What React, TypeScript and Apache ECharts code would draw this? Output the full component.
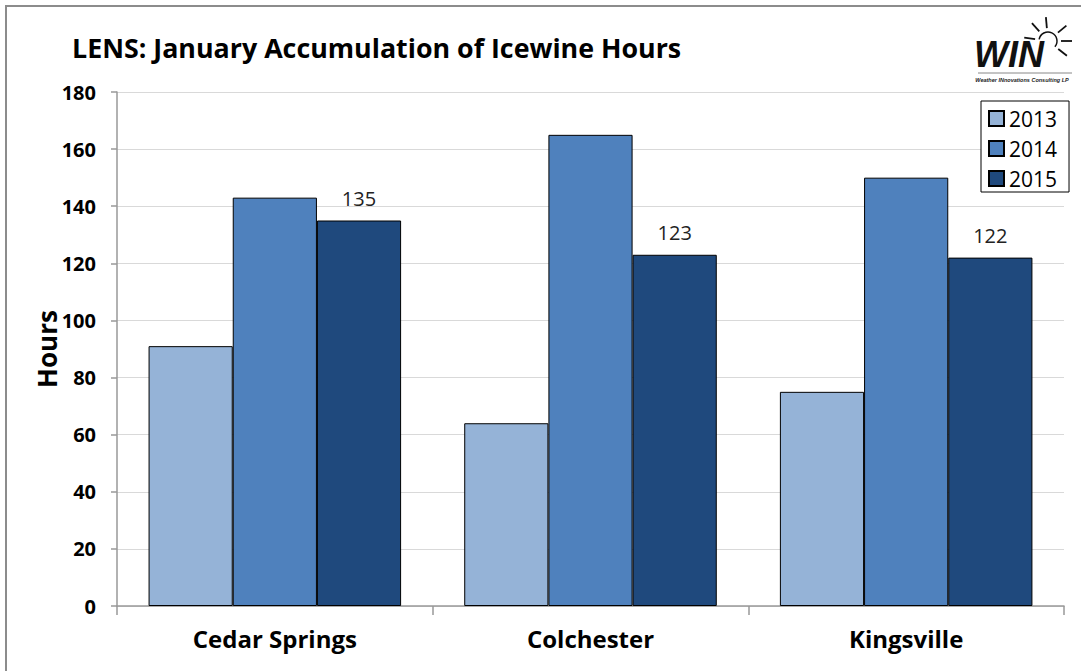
import React, { useEffect, useRef } from "react";
import * as echarts from "echarts";

const categories = ["Cedar Springs", "Colchester", "Kingsville"];
const years = ["2013", "2014", "2015"];
const values2013 = [91, 64, 75];
const values2014 = [143, 165, 150];
const values2015 = [135, 123, 122];
const yTicks = { min: 0, max: 180, interval: 20 };
const colors = ["#95B3D7", "#4F81BD", "#1F497D"];

const FONT = "'Open Sans', sans-serif";

export default function App() {
  const ref = useRef<HTMLDivElement>(null);
  useEffect(() => {
    if (!ref.current) return;
    const chart = echarts.init(ref.current, undefined, { renderer: "svg" });
    const seriesData = [values2013, values2014, values2015];
    const cx = 1048, cy = 41;
    const rayAngles = [-172, -132, -95, -40, 0, 38];
    const rays = rayAngles.map((a) => {
      const r = (a * Math.PI) / 180;
      return {
        type: "line",
        shape: { x1: cx + Math.cos(r) * 13, y1: cy + Math.sin(r) * 13, x2: cx + Math.cos(r) * 24, y2: cy + Math.sin(r) * 24 },
        style: { stroke: "#111", lineWidth: 1.8 },
      };
    });
    chart.setOption({
      animation: false,
      textStyle: { fontFamily: FONT },
      title: {
        text: "LENS: January Accumulation of Icewine Hours",
        left: 67,
        top: 29,
        textStyle: { fontFamily: FONT, fontSize: 26.8, fontWeight: "bold", color: "#000" },
      },
      legend: {
        orient: "vertical",
        left: 981,
        top: 101,
        width: 89,
        padding: [7, 12, 3, 7],
        itemWidth: 15,
        itemHeight: 15,
        itemGap: 9,
        borderColor: "#000",
        borderWidth: 1,
        backgroundColor: "#fff",
        icon: "rect",
        data: years,
        textStyle: { fontFamily: FONT, fontSize: 21, lineHeight: 20, color: "#000", padding: [0, 0, 0, 0] },
      },
      grid: { left: 117, right: 17, top: 92, bottom: 65, containLabel: false },
      xAxis: {
        type: "category",
        data: categories,
        axisLine: { lineStyle: { color: "#999", width: 1.5 } },
        axisTick: { show: true, length: 9, lineStyle: { color: "#999", width: 1.5 } },
        axisLabel: { fontFamily: FONT, fontSize: 24, fontWeight: "bold", color: "#000", margin: 20 },
      },
      yAxis: {
        type: "value",
        min: yTicks.min,
        max: yTicks.max,
        interval: yTicks.interval,
        name: "Hours",
        nameLocation: "middle",
        nameGap: 57,
        nameMoveOverlap: false,
        nameTextStyle: { fontFamily: FONT, fontSize: 26, fontWeight: "bold", color: "#000" },
        axisLine: { show: true, lineStyle: { color: "#999", width: 1.5 } },
        axisTick: { show: true, length: 6, lineStyle: { color: "#999", width: 1.5 } },
        axisLabel: { fontFamily: FONT, fontSize: 20, fontWeight: "bold", color: "#000", margin: 21 },
        splitLine: { lineStyle: { color: "#d9d9d9", width: 1 } },
      },
      series: years.map((y, i) => ({
        name: y,
        type: "bar",
        data: seriesData[i],
        barGap: "0%",
        barCategoryGap: "20%",
        itemStyle: { color: colors[i], borderColor: "#000", borderWidth: 1 },
        label: i === 2
          ? { show: true, position: "top", distance: 12, fontFamily: FONT, fontSize: 20, color: "#222" }
          : { show: false },
      })),
      graphic: [
        {
          type: "rect",
          shape: { x: 6, y: 6, width: 1200, height: 800 },
          style: { fill: "none", stroke: "#8c8c8c", lineWidth: 2 },
          silent: true,
        },
        {
          type: "text",
          x: 974,
          y: 36,
          style: { text: "WIN", fontFamily: "'Liberation Sans', Arial, sans-serif", fontSize: 36, fontWeight: 900, fontStyle: "italic", fill: "#111" },
        },
        {
          type: "arc",
          shape: { cx, cy, r: 9, startAngle: (-170 * Math.PI) / 180, endAngle: (40 * Math.PI) / 180 },
          style: { stroke: "#111", lineWidth: 1.5, fill: "none" },
        },
        ...rays,
        {
          type: "line",
          shape: { x1: 978, y1: 73, x2: 1072, y2: 73 },
          style: { stroke: "#888", lineWidth: 1 },
        },
        {
          type: "text",
          x: 1022,
          y: 77,
          style: { text: "Weather INnovations Consulting LP", fontFamily: "'Liberation Sans', Arial, sans-serif", fontSize: 5.5, fontWeight: "bold", fontStyle: "italic", fill: "#222", align: "center" },
        },
      ],
    });
    return () => chart.dispose();
  }, []);
  return <div ref={ref} style={{ position: "fixed", left: 0, top: 0, width: 1081, height: 671, background: "#fff" }} />;
}
